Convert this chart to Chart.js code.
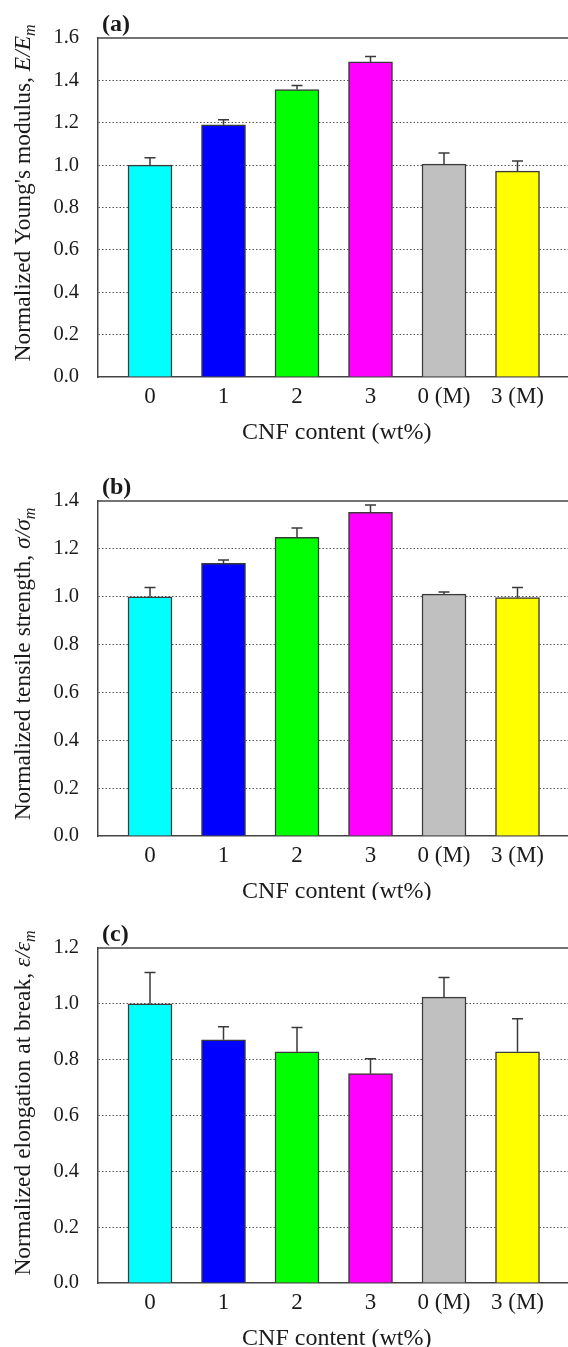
<!DOCTYPE html>
<html>
<head>
<meta charset="utf-8">
<script src="https://cdn.jsdelivr.net/npm/chart.js@4.4.1/dist/chart.umd.min.js"></script>
<style>
  html, body { margin: 0; padding: 0; background: #ffffff; }
  #wrap { position: relative; width: 568px; height: 1347px; overflow: hidden; }
  .panel { position: absolute; left: 0; width: 568px; }
  canvas { display: block; }
</style>
</head>
<body>
<div id="wrap">
  <div class="panel" style="top:0px;height:450px"><canvas id="ca" width="568" height="450"></canvas></div>
  <div class="panel" style="top:450px;height:450px"><canvas id="cb" width="568" height="450"></canvas></div>
  <div class="panel" style="top:900px;height:447px"><canvas id="cc" width="568" height="447"></canvas></div>
</div>
<script>
// ---- data ----
const categories = ['0', '1', '2', '3', '0 (M)', '3 (M)'];
const barColors = ['#00FFFF', '#0000FF', '#00FF00', '#FF00FF', '#C0C0C0', '#FFFF00'];

const modulus     = [1.000, 1.190, 1.357, 1.487, 1.005, 0.972];
const modulusErr  = [0.035, 0.024, 0.019, 0.026, 0.052, 0.047];

const strength    = [1.000, 1.140, 1.248, 1.353, 1.011, 0.996];
const strengthErr = [0.038, 0.013, 0.039, 0.030, 0.009, 0.042];

const elongation    = [1.000, 0.871, 0.828, 0.750, 1.024, 0.828];
const elongationErr = [0.112, 0.047, 0.087, 0.053, 0.070, 0.119];

const yMaxA = 1.6, yMaxB = 1.4, yMaxC = 1.2;
const yStep = 0.2;
const xTitle = 'CNF content (wt%)';

// ---- styling ----
const SERIF = '"Liberation Serif", "Times New Roman", serif';
const AXIS_COLOR = '#444444';
const GRID_COLOR = '#555555';
const TEXT_COLOR = '#1a1a1a';

const decorPlugin = {
  id: 'decor',
  afterDatasetsDraw(chart, args, o) {
    const { ctx, chartArea: ca, scales: { x, y } } = chart;
    ctx.save();
    // error bars (upper only)
    ctx.strokeStyle = '#3a3a3a';
    ctx.lineWidth = 1.5;
    o.values.forEach((v, i) => {
      const px = x.getPixelForValue(i);
      const y0 = y.getPixelForValue(v);
      const y1 = y.getPixelForValue(v + o.errors[i]);
      ctx.beginPath();
      ctx.moveTo(px, y0);
      ctx.lineTo(px, y1);
      ctx.moveTo(px - 5.5, y1);
      ctx.lineTo(px + 5.5, y1);
      ctx.stroke();
    });
    // top frame line
    ctx.strokeStyle = AXIS_COLOR;
    ctx.lineWidth = 1.5;
    ctx.beginPath();
    ctx.moveTo(ca.left, ca.top);
    ctx.lineTo(ca.right, ca.top);
    ctx.stroke();
    // panel label
    ctx.fillStyle = TEXT_COLOR;
    ctx.textAlign = 'left';
    ctx.textBaseline = 'alphabetic';
    ctx.font = 'bold 24px ' + SERIF;
    ctx.fillText(o.label, ca.left + 4, ca.top - 7);
    // x axis title
    ctx.font = '24px ' + SERIF;
    ctx.textAlign = 'center';
    ctx.fillText(xTitle, x.getPixelForValue(2.5) + 3, ca.bottom + 62);
    // y axis title with italic symbol and subscript
    const parts = [
      { t: o.yTitle, f: '23.5px ' + SERIF, dy: 0 },
      { t: o.ySym, f: 'italic 23.5px ' + SERIF, dy: 0 },
      { t: 'm', f: 'italic 16px ' + SERIF, dy: 5 }
    ];
    let total = 0;
    parts.forEach(p => { ctx.font = p.f; p.w = ctx.measureText(p.t).width; total += p.w; });
    ctx.translate(o.yTitleX, o.yTitleCY);
    ctx.rotate(-Math.PI / 2);
    ctx.textAlign = 'left';
    let cx = -total / 2;
    parts.forEach(p => {
      ctx.font = p.f;
      ctx.fillText(p.t, cx, p.dy);
      cx += p.w;
    });
    ctx.restore();
  }
};

function makeChart(id, values, errors, yMax, plotTop, plotBottom, canvasH, label, yTitle, ySym, yTitleCY) {
  const ctx = document.getElementById(id);
  return new Chart(ctx, {
    type: 'bar',
    data: {
      datasets: [{
        data: values.map((v, i) => ({ x: i, y: v })),
        backgroundColor: barColors,
        borderColor: '#3a3a3a',
        borderWidth: 1.5,
        barThickness: 44
      }]
    },
    options: {
      responsive: false,
      animation: false,
      events: [],
      layout: { padding: { top: plotTop, left: 0, right: 0, bottom: 0 } },
      plugins: {
        legend: { display: false },
        tooltip: { enabled: false },
        decor: { values, errors, label, yTitle, ySym, yTitleX: 30, yTitleCY }
      },
      scales: {
        x: {
          type: 'linear',
          min: -0.7075,
          max: 5.687,
          offset: false,
          grid: { display: false, drawTicks: false },
          border: { display: true, color: AXIS_COLOR, width: 1.5 },
          afterBuildTicks: (s) => { s.ticks = categories.map((_, i) => ({ value: i })); },
          afterFit: (s) => { s.height = canvasH - plotBottom; },
          ticks: {
            color: TEXT_COLOR,
            padding: 6,
            maxRotation: 0,
            autoSkip: false,
            font: { family: SERIF, size: 23 },
            callback: (v) => categories[Math.round(v)]
          }
        },
        y: {
          min: 0,
          max: yMax,
          afterFit: (s) => { s.width = 98; },
          grid: {
            drawTicks: false,
            lineWidth: 1,
            color: (c) => (c.tick && (Math.abs(c.tick.value) < 1e-6 || Math.abs(c.tick.value - yMax) < 1e-6)) ? 'rgba(0,0,0,0)' : GRID_COLOR
          },
          border: { display: true, color: AXIS_COLOR, width: 1.5, dash: [1.5, 2] },
          ticks: {
            stepSize: yStep,
            color: TEXT_COLOR,
            padding: 19,
            font: { family: SERIF, size: 20.5 },
            callback: (v) => Number(v).toFixed(1)
          }
        }
      }
    },
    plugins: [decorPlugin]
  });
}

makeChart('ca', modulus, modulusErr, yMaxA, 38, 377, 450, '(a)', "Normalized Young's modulus, ", 'E/E', 193);
makeChart('cb', strength, strengthErr, yMaxB, 51, 386, 450, '(b)', 'Normalized tensile strength, ', '\u03C3/\u03C3', 214);
makeChart('cc', elongation, elongationErr, yMaxC, 48, 383, 447, '(c)', 'Normalized elongation at break, ', '\u03B5/\u03B5', 203);
</script>
</body>
</html>
